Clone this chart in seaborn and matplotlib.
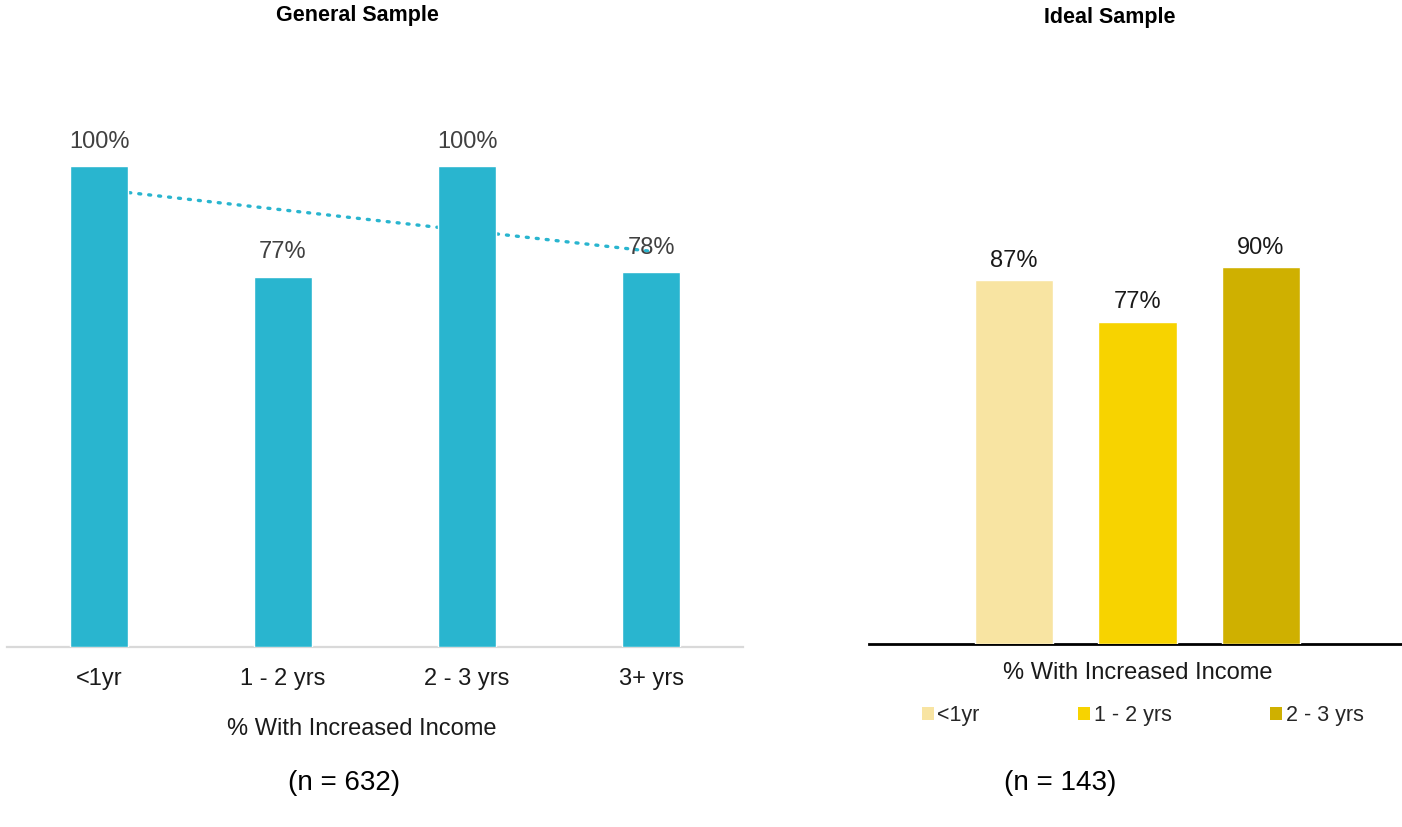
import numpy as np
import pandas as pd
import matplotlib
matplotlib.use("Agg")
import matplotlib.pyplot as plt
from matplotlib.patches import Patch
import seaborn as sns

# ---- data ----
general_categories = ["<1yr", "1 - 2 yrs", "2 - 3 yrs", "3+ yrs"]
general_values = [1.00, 0.77, 1.00, 0.78]
general_n = 632

ideal_categories = ["<1yr", "1 - 2 yrs", "2 - 3 yrs"]
ideal_values = [0.87, 0.77, 0.90]
ideal_n = 143

axis_caption = "% With Increased Income"
general_title = "General Sample"
ideal_title = "Ideal Sample"

# ---- style ----
sns.set_theme(style="white")
plt.rcParams["font.family"] = ["Liberation Sans", "DejaVu Sans"]

teal = "#29B5CF"
gold_palette = ["#F8E4A2", "#F7D300", "#CFB000"]

W, H = 1402, 827
fig = plt.figure(figsize=(W / 100, H / 100), dpi=100)
fig.patch.set_facecolor("white")


def fx(px):
    return px / W


def fy(py):
    return 1 - py / H


# ---- left panel: general sample ----
axL = fig.add_axes([fx(7), fy(647), fx(736), 577 / H])
gen_df = pd.DataFrame({"period": general_categories, "share": general_values})
sns.barplot(data=gen_df, x="period", y="share", color=teal, saturation=1,
            width=0.315, ax=axL, zorder=3)

# linear trend through the four values, drawn behind the bars
xs = np.arange(len(general_values))
coef = np.polyfit(xs, general_values, 1)
axL.plot(xs, np.polyval(coef, xs), color=teal, lw=2.4,
         linestyle=(0, (0.6, 2.4)), dash_capstyle="round", zorder=2)

for i, v in enumerate(general_values):
    axL.annotate(f"{v:.0%}", (i, v), xytext=(0, 17.5), textcoords="offset points",
                 ha="center", va="center", fontsize=17, color="#404040", zorder=4)

axL.set_xlim(-0.5, 3.5)
axL.set_ylim(0, 1.2)
axL.set_yticks([])
axL.set_xlabel("")
axL.set_ylabel("")
for s in ["top", "right", "left"]:
    axL.spines[s].set_visible(False)
axL.spines["bottom"].set_color("#D9D9D9")
axL.spines["bottom"].set_linewidth(1.6)
axL.tick_params(axis="x", length=0, pad=15, labelsize=17, labelcolor="#1a1a1a")

# ---- right panel: ideal sample ----
axR = fig.add_axes([fx(869), fy(644), fx(533), 502 / H])
ideal_df = pd.DataFrame({"period": ideal_categories, "share": ideal_values})
sns.barplot(data=ideal_df, x="period", y="share", hue="period",
            palette=gold_palette, saturation=1, width=0.632, dodge=False,
            legend=False, ax=axR, zorder=3)

for i, v in enumerate(ideal_values):
    axR.annotate(f"{v:.0%}", (i, v), xytext=(0, 14), textcoords="offset points",
                 ha="center", va="center", fontsize=17, color="#1a1a1a", zorder=4)

axR.set_xlim(-1.174, 3.142)
axR.set_ylim(0, 1.2)
axR.set_yticks([])
axR.set_xticks([])
axR.set_xlabel("")
axR.set_ylabel("")
for s in ["top", "right", "left"]:
    axR.spines[s].set_visible(False)
axR.spines["bottom"].set_color("black")
axR.spines["bottom"].set_linewidth(2.0)

handles = [Patch(facecolor=c, edgecolor="none", label=lab)
           for c, lab in zip(gold_palette, ideal_categories)]
fig.legend(handles=handles, loc="center left", bbox_to_anchor=(fx(922), fy(716)),
           ncol=3, frameon=False, fontsize=15.5, handlelength=0.55, handleheight=0.55,
           handletextpad=0.15, columnspacing=4.6, borderpad=0, borderaxespad=0)

# ---- titles and captions ----
fig.text(fx(357), fy(15), general_title, ha="center", va="center",
         fontsize=15.5, fontweight="bold", color="black")
fig.text(fx(1110), fy(18), ideal_title, ha="center", va="center",
         fontsize=15.5, fontweight="bold", color="black")

fig.text(fx(362), fy(729), axis_caption, ha="center", va="center",
         fontsize=17, color="#1a1a1a")
fig.text(fx(1138), fy(673), axis_caption, ha="center", va="center",
         fontsize=17, color="#1a1a1a")

fig.text(fx(344), fy(783), f"(n = {general_n})", ha="center", va="center",
         fontsize=20, color="black")
fig.text(fx(1060), fy(783), f"(n = {ideal_n})", ha="center", va="center",
         fontsize=20, color="black")

fig.savefig("out.png", dpi=100, facecolor="white")
